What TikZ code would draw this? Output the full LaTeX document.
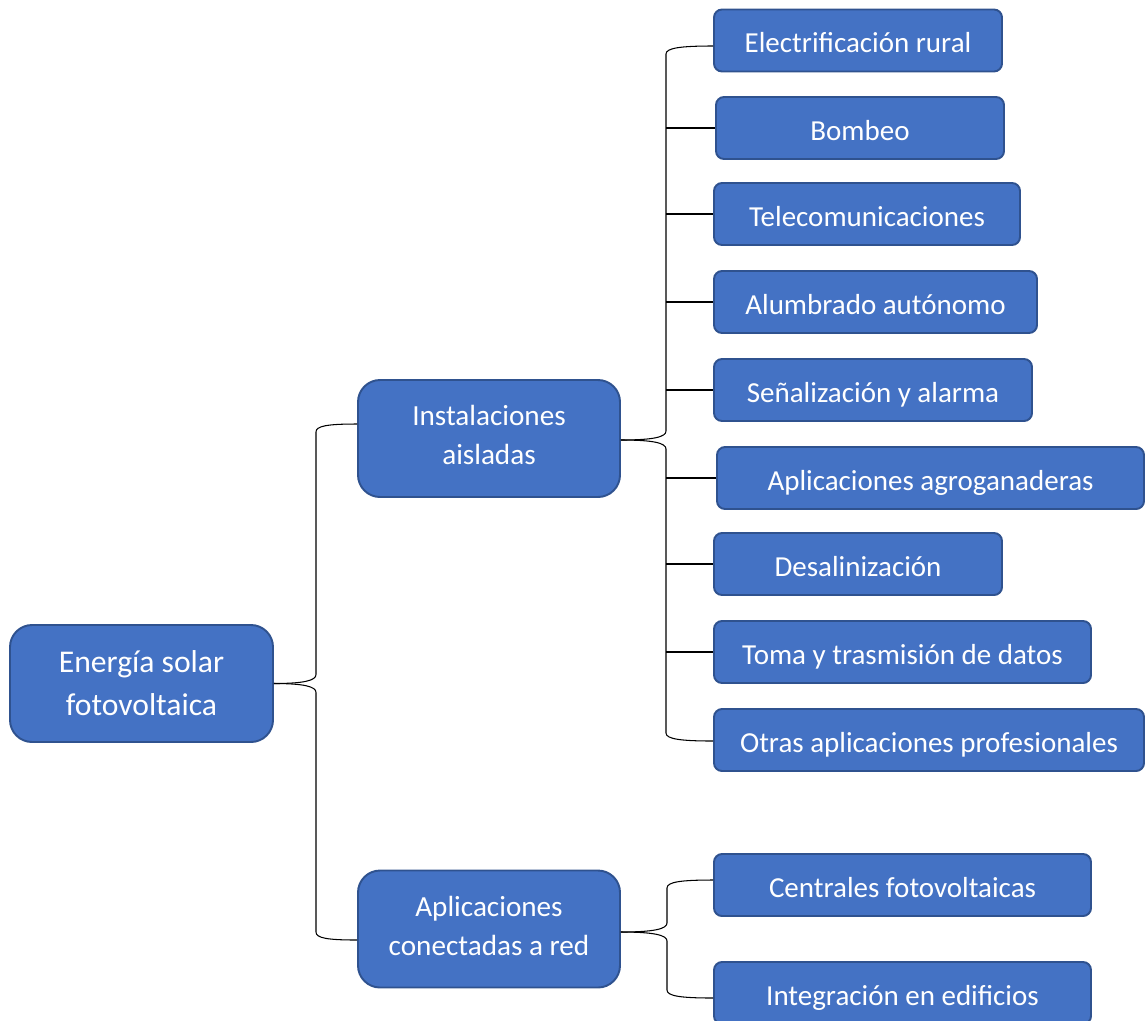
\documentclass[tikz,border=0pt]{standalone}
\usepackage{fontspec}
\setmainfont{Carlito}
\usepackage{xcolor}
\usetikzlibrary{calc}
\definecolor{boxblue}{HTML}{4472C4}
\definecolor{boxedge}{HTML}{2F528F}

\begin{document}
\begin{tikzpicture}[box/.style={draw=boxedge, line width=1.1pt, fill=boxblue, text=white, align=center, inner sep=0pt}, bigbox/.style={box, rounded corners=0.44cm, minimum width=5.24cm, minimum height=2.34cm, text height=30.2pt, text depth=0.5pt, font=\fontsize{16.6}{22.2}\selectfont}, leafbox/.style={box, rounded corners=0.16cm, minimum height=1.24cm, text height=14.5pt, text depth=0.5pt, font=\fontsize{16.5}{20}\selectfont}, link/.style={black, line width=0.6pt}]
\useasboundingbox (0,0) rectangle (22.9,-20.4);
\node[bigbox, minimum width=5.26cm, text height=36.5pt, font=\fontsize{18}{24}\selectfont] (solar) at (2.83,-13.67) {Energía solar\\fotovoltaica};
\node[bigbox] (aisladas) at (9.78,-8.77) {Instalaciones\\aisladas};
\node[bigbox] (conectadas) at (9.78,-18.58) {Aplicaciones\\conectadas a red};
\node[leafbox, minimum width=5.76cm] (rural) at (17.16,-0.81) {Electrificación rural};
\node[leafbox, minimum width=5.76cm] (bombeo) at (17.20,-2.56) {Bombeo};
\node[leafbox, minimum width=6.12cm] (telecom) at (17.34,-4.28) {Telecomunicaciones};
\node[leafbox, minimum width=6.46cm] (alumbrado) at (17.51,-6.04) {Alumbrado autónomo};
\node[leafbox, minimum width=6.36cm] (alarma) at (17.46,-7.80) {Señalización y alarma};
\node[leafbox, minimum width=8.54cm] (agro) at (18.61,-9.56) {Aplicaciones agroganaderas};
\node[leafbox, minimum width=5.76cm] (desal) at (17.16,-11.28) {Desalinización};
\node[leafbox, minimum width=7.54cm] (datos) at (18.05,-13.04) {Toma y trasmisión de datos};
\node[leafbox, minimum width=8.60cm] (otras) at (18.58,-14.80) {Otras aplicaciones profesionales};
\node[leafbox, minimum width=7.54cm] (centrales) at (18.05,-17.70) {Centrales fotovoltaicas};
\node[leafbox, minimum width=7.54cm] (edificios) at (18.05,-19.86) {Integración en edificios};
\coordinate (v1) at (6.32,0);
\coordinate (v2) at (13.32,0);
\coordinate (v3) at (13.34,0);
\coordinate (aisladasin) at ([yshift=0.29cm]aisladas.west);
\coordinate (conectadasin) at ([yshift=-0.22cm]conectadas.west);
\coordinate (aisladasout) at ([yshift=-0.03cm]aisladas.east);
\coordinate (ruralin) at ([yshift=-0.11cm]rural.west);
\coordinate (otrasin) at ([yshift=-0.02cm]otras.west);
\coordinate (conectadasout) at ([yshift=-0.06cm]conectadas.east);
\coordinate (centralesin) at ([yshift=0.1cm]centrales.west);
\coordinate (edificiosin) at ([yshift=-0.1cm]edificios.west);
\draw[link] (solar.east) .. controls +(0.6,0) and +(0,-0.12) .. ($(v1 |- solar.east)+(0,0.18)$) -- ($(v1 |- aisladasin)+(0,-0.16)$) .. controls +(0,0.12) and +(-0.6,0) .. (aisladasin);
\draw[link] (solar.east) .. controls +(0.6,0) and +(0,0.12) .. ($(v1 |- solar.east)+(0,-0.18)$) -- ($(v1 |- conectadasin)+(0,0.16)$) .. controls +(0,-0.12) and +(-0.6,0) .. (conectadasin);
\draw[link] (aisladasout) .. controls +(0.65,0) and +(0,-0.12) .. ($(v2 |- aisladasout)+(0,0.18)$) -- ($(v2 |- ruralin)+(0,-0.16)$) .. controls +(0,0.12) and +(-0.65,0) .. (ruralin);
\draw[link] (aisladasout) .. controls +(0.65,0) and +(0,0.12) .. ($(v2 |- aisladasout)+(0,-0.18)$) -- ($(v2 |- otrasin)+(0,0.16)$) .. controls +(0,-0.12) and +(-0.65,0) .. (otrasin);
\draw[link] (v2 |- bombeo.west) -- (bombeo.west);
\draw[link] (v2 |- telecom.west) -- (telecom.west);
\draw[link] (v2 |- alumbrado.west) -- (alumbrado.west);
\draw[link] (v2 |- alarma.west) -- (alarma.west);
\draw[link] (v2 |- agro.west) -- (agro.west);
\draw[link] (v2 |- desal.west) -- (desal.west);
\draw[link] (v2 |- datos.west) -- (datos.west);
\draw[link] (conectadasout) .. controls +(0.65,0) and +(0,-0.12) .. ($(v3 |- conectadasout)+(0,0.18)$) -- ($(v3 |- centralesin)+(0,-0.16)$) .. controls +(0,0.12) and +(-0.65,0) .. (centralesin);
\draw[link] (conectadasout) .. controls +(0.65,0) and +(0,0.12) .. ($(v3 |- conectadasout)+(0,-0.18)$) -- ($(v3 |- edificiosin)+(0,0.16)$) .. controls +(0,-0.12) and +(-0.65,0) .. (edificiosin);
\end{tikzpicture}
\end{document}
